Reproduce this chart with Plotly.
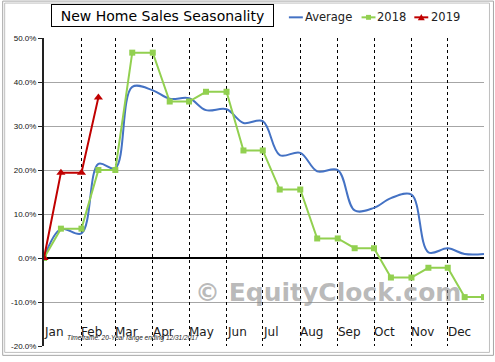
import plotly.graph_objects as go

# ---------------- data ----------------
months = ["Jan", "Feb", "Mar", "Apr", "May", "Jun",
          "Jul", "Aug", "Sep", "Oct", "Nov", "Dec"]

# Average: value at mid-month and at the start of the next month (last = Dec 31)
avg_mid = [6.6, 21.4, 38.9, 36.2, 33.6, 30.7, 23.4, 19.7, 10.8, 13.6, 1.3, 0.9]
avg_next = [5.6, 20.4, 38.1, 36.3, 33.8, 31.1, 23.9, 20.0, 11.4, 14.4, 2.2, 0.9]

# 2018 monthly values (step: mid-month and start of next month)
sales_2018 = [6.67, 20.0, 46.67, 35.56, 37.78, 24.44, 15.56, 4.44, 2.22, -4.44, -2.22, -8.89]

# 2019 monthly values
sales_2019 = [19.4, 36.5]

y_ticks = [-20, -10, 0, 10, 20, 30, 40, 50]
grid_vals = [-10, 10, 20, 30, 40]
year = 2018

# ---------------- build series ----------------
def series_dates(n):
    d = [f"{year}-01-01"]
    for i in range(n):
        d.append(f"{year}-{i + 1:02d}-15")
        if i + 2 <= 12:
            d.append(f"{year}-{i + 2:02d}-01")
        else:
            d.append(f"{year}-12-31")
    return d

avg_x = series_dates(12)
avg_y = [0]
for a, b in zip(avg_mid, avg_next):
    avg_y += [a, b]

s18_x = series_dates(12)
s18_y = [0]
for v in sales_2018:
    s18_y += [v, v]

s19_x = series_dates(len(sales_2019))[:-1]
s19_y = [0]
for v in sales_2019:
    s19_y += [v, v]
s19_y = s19_y[:-1]

BLUE = "#4472C4"
GREEN = "#92D050"
RED = "#C00000"

fig = go.Figure()
fig.add_trace(go.Scatter(x=avg_x, y=avg_y, mode="lines", name="Average",
                         line=dict(color=BLUE, width=2, shape="spline", smoothing=1.0)))
fig.add_trace(go.Scatter(x=s18_x, y=s18_y, mode="lines+markers", name="2018",
                         line=dict(color=GREEN, width=2),
                         marker=dict(symbol="square", size=6, color=GREEN)))
fig.add_trace(go.Scatter(x=s19_x, y=s19_y, mode="lines+markers", name="2019",
                         line=dict(color=RED, width=2),
                         marker=dict(symbol="triangle-up", size=8, color=RED)))

# ---------------- layout geometry ----------------
W, H = 495, 362
L, R, T, B = 42, 11, 38, 11
PW, PH = W - L - R, H - T - B

def px(x):
    return (x - L) / PW

def py(y):
    return (H - B - y) / PH

FONT = "DejaVu Sans, Verdana, sans-serif"

annotations = []
# month labels
for i, m in enumerate(months):
    annotations.append(dict(x=f"{year}-{i + 1:02d}-01", y=-16.9, xref="x", yref="y",
                            text=m, showarrow=False, xanchor="left", yanchor="middle",
                            xshift=-2, font=dict(family=FONT, size=12, color="#1a1a1a")))
# timeframe note
annotations.append(dict(x=px(63), y=py(342.5), xref="paper", yref="paper",
                        text="Timeframe: 20-Year range ending 12/31/2017", showarrow=False,
                        xanchor="left", yanchor="middle",
                        font=dict(family="Liberation Sans, Arial", size=6.5, color="#222",
                                  style="italic")))
# watermark
annotations.append(dict(x=px(327.5), y=py(297), xref="paper", yref="paper",
                        text="© EquityClock.com", showarrow=False,
                        xanchor="center", yanchor="middle",
                        font=dict(family=FONT, size=25, color="rgba(140,140,140,0.6)",
                                  weight="bold")))
# title box
annotations.append(dict(x=px(161.5), y=py(15.5), xref="paper", yref="paper",
                        text="New Home Sales Seasonality", showarrow=False,
                        xanchor="center", yanchor="middle",
                        width=219, height=19, borderpad=1,
                        bordercolor="#000", borderwidth=1, bgcolor="white",
                        font=dict(family=FONT, size=14, color="#000")))
# legend texts
for label, xpos in [("Average", 303), ("2018", 376), ("2019", 430)]:
    annotations.append(dict(x=px(xpos), y=py(17), xref="paper", yref="paper",
                            text=label, showarrow=False, xanchor="left", yanchor="middle",
                            xshift=-1,
                            font=dict(family=FONT, size=11.5, color="#222")))

shapes = []
# outer frame (double gray border)
shapes.append(dict(type="rect", xref="paper", yref="paper",
                   x0=px(0.5), x1=px(493.5), y0=py(360.5), y1=py(0.5),
                   line=dict(color="#a6a6a6", width=1)))
shapes.append(dict(type="rect", xref="paper", yref="paper",
                   x0=px(2.5), x1=px(489.5), y0=py(357.5), y1=py(2.5),
                   line=dict(color="#bfbfbf", width=1)))
# legend swatches
shapes.append(dict(type="line", xref="paper", yref="paper",
                   x0=px(288), x1=px(302), y0=py(17), y1=py(17),
                   line=dict(color=BLUE, width=2)))
shapes.append(dict(type="line", xref="paper", yref="paper",
                   x0=px(361), x1=px(375), y0=py(17), y1=py(17),
                   line=dict(color=GREEN, width=2)))
shapes.append(dict(type="rect", xref="paper", yref="paper",
                   x0=px(365.5), x1=px(370.5), y0=py(19.5), y1=py(14.5),
                   line=dict(width=0), fillcolor=GREEN))
shapes.append(dict(type="line", xref="paper", yref="paper",
                   x0=px(414), x1=px(428), y0=py(17), y1=py(17),
                   line=dict(color=RED, width=2)))
shapes.append(dict(type="path", xref="paper", yref="paper",
                   path=f"M {px(417.5)} {py(20)} L {px(424.5)} {py(20)} L {px(421)} {py(13.5)} Z",
                   line=dict(width=0), fillcolor=RED))

fig.update_layout(
    width=W, height=H,
    margin=dict(l=L, r=R, t=T, b=B),
    paper_bgcolor="white", plot_bgcolor="white",
    showlegend=False,
    annotations=annotations,
    shapes=shapes,
    xaxis=dict(type="date", range=[f"{year}-01-01", f"{year}-12-31"],
               showgrid=True, gridcolor="#000", griddash="dot", gridwidth=1,
               dtick="M1", tick0=f"{year}-01-01",
               showticklabels=False, ticks="", showline=False, zeroline=False,
               fixedrange=True),
    yaxis=dict(range=[-20, 50], tickmode="array", tickvals=y_ticks,
               ticktext=[f"{v:.1f}%" for v in y_ticks],
               showgrid=False,
               minor=dict(tickmode="array", tickvals=grid_vals, showgrid=True,
                          gridcolor="#a6a6a6", gridwidth=1, ticks=""),
               zeroline=True, zerolinecolor="#000", zerolinewidth=2,
               showline=True, linecolor="#222", linewidth=2,
               ticks="outside", ticklen=4, tickcolor="#222", tickwidth=1,
               tickfont=dict(family="Liberation Sans, Arial", size=8, color="#111"),
               fixedrange=True),
)

fig.write_html("out.html",
               config={"displayModeBar": False, "staticPlot": True},
               post_script="document.body.style.margin='0px';document.body.style.overflow='hidden';")
